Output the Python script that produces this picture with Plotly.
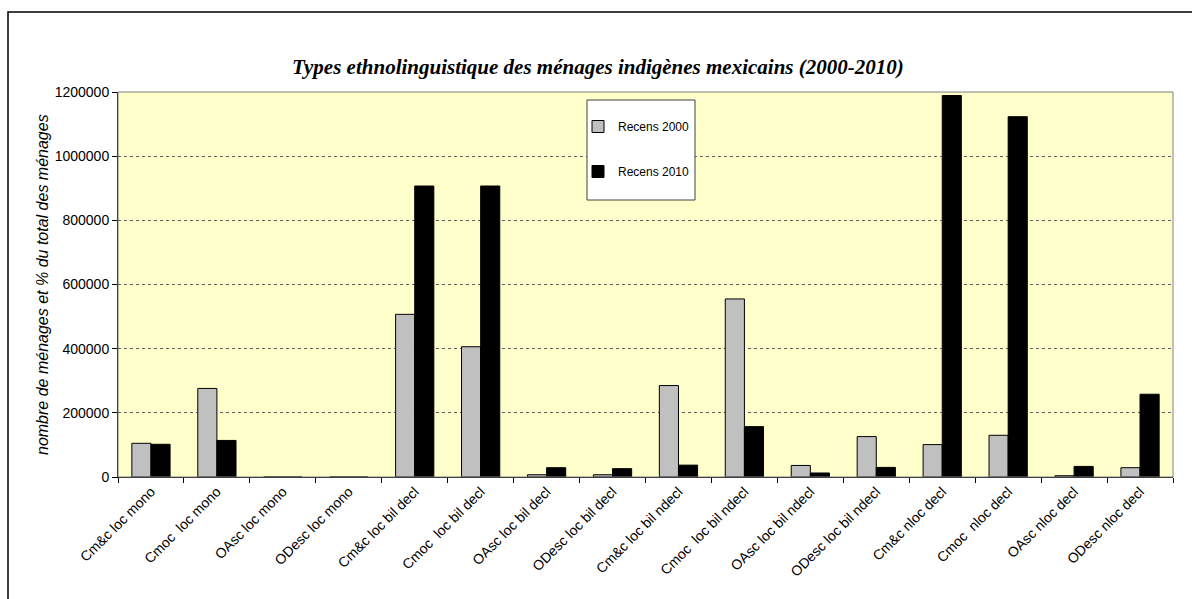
import plotly.graph_objects as go

categories = ["Cm&c loc mono", "Cmoc  loc mono", "OAsc loc mono", "ODesc loc mono",
              "Cm&c loc bil decl", "Cmoc  loc bil decl", "OAsc loc bil decl", "ODesc loc bil decl",
              "Cm&c loc bil ndecl", "Cmoc  loc bil ndecl", "OAsc loc bil ndecl", "ODesc loc bil ndecl",
              "Cm&c nloc decl", "Cmoc  nloc decl", "OAsc nloc decl", "ODesc nloc decl"]
recens_2000 = [105000, 276000, 0, 0, 507000, 406000, 7000, 7000,
               285000, 555000, 36000, 126000, 101000, 130000, 4000, 29000]
recens_2010 = [102000, 114000, 0, 0, 907000, 907000, 29000, 26000,
               37000, 157000, 12500, 30000, 1189000, 1123000, 33000, 258000]
y_ticks = [0, 200000, 400000, 600000, 800000, 1000000, 1200000]

W, H = 1192, 599
L, R, T, B = 118, 1173, 92, 477
pw, ph = R - L, B - T

def px(x):
    return (x - L) / pw

def py(y):
    return (B - y) / ph

fig = go.Figure()
fig.add_trace(go.Bar(x=categories, y=recens_2000, name="Recens 2000",
                     marker=dict(color="#C0C0C0", line=dict(color="#000000", width=1)),
                     legendgroup="a"))
fig.add_trace(go.Bar(x=categories, y=recens_2010, name="Recens 2010",
                     marker=dict(color="#000000", line=dict(color="#000000", width=1)),
                     legendgroup="b"))

font_sans = "Liberation Sans, Arial, sans-serif"

fig.update_layout(
    width=W, height=H,
    margin=dict(l=L, r=W - R, t=T, b=H - B, pad=0),
    paper_bgcolor="#FFFFFF",
    plot_bgcolor="#FFFFCC",
    barmode="group",
    bargap=0.42,
    bargroupgap=0,
    font=dict(family=font_sans, size=14, color="#000000"),
    showlegend=True,
    legend=dict(x=px(578), y=py(112), xanchor="left", yanchor="top",
                bgcolor="rgba(0,0,0,0)", borderwidth=0,
                traceorder="grouped", tracegroupgap=26,
                font=dict(family=font_sans, size=12, color="#000000")),
    xaxis=dict(type="category", tickson="boundaries", ticks="outside", ticklen=5,
               tickcolor="#000000", showline=True, linecolor="#000000", linewidth=1,
               tickangle=-45, tickfont=dict(family=font_sans, size=14),
               showgrid=False, fixedrange=True),
    yaxis=dict(range=[0, 1200000], tickvals=y_ticks, tickformat="d", ticks="outside",
               ticklen=5, tickcolor="#000000", showline=True, linecolor="#000000",
               linewidth=1, showgrid=True, gridcolor="#606060", griddash="dot",
               gridwidth=1, zeroline=False, tickfont=dict(family=font_sans, size=14),
               fixedrange=True),
    shapes=[
        # outer chart frame
        dict(type="rect", xref="paper", yref="paper", x0=px(8), x1=px(1205),
             y0=py(615), y1=py(12), line=dict(color="#000000", width=1.5),
             fillcolor="rgba(0,0,0,0)", layer="below"),
        # plot area border
        dict(type="rect", xref="paper", yref="paper", x0=0, x1=1, y0=0, y1=1,
             line=dict(color="#808080", width=1), fillcolor="rgba(0,0,0,0)", layer="above"),
        # legend box
        dict(type="rect", xref="paper", yref="paper", x0=px(587), x1=px(695),
             y0=py(200), y1=py(100), line=dict(color="#404040", width=1),
             fillcolor="#FFFFFF", layer="above"),
    ],
    annotations=[
        dict(text="<b><i>Types ethnolinguistique des ménages indigènes mexicains (2000-2010)</i></b>",
             xref="paper", yref="paper", x=px(598), y=py(67), xanchor="center", yanchor="middle",
             showarrow=False, font=dict(family="Liberation Serif, Times New Roman, serif", size=21)),
        dict(text="<i>nombre de ménages et % du total des ménages</i>",
             xref="paper", yref="paper", x=px(42), y=py(285), xanchor="center", yanchor="middle",
             textangle=-90, showarrow=False, font=dict(family=font_sans, size=16)),
    ],
)

fig.write_html("out.html", config={"displayModeBar": False, "staticPlot": True})

with open("out.html", "r", encoding="utf-8") as f:
    html = f.read()
html = html.replace("<head>", "<head><style>html,body{margin:0;padding:0;overflow:hidden;}</style>", 1)
with open("out.html", "w", encoding="utf-8") as f:
    f.write(html)
